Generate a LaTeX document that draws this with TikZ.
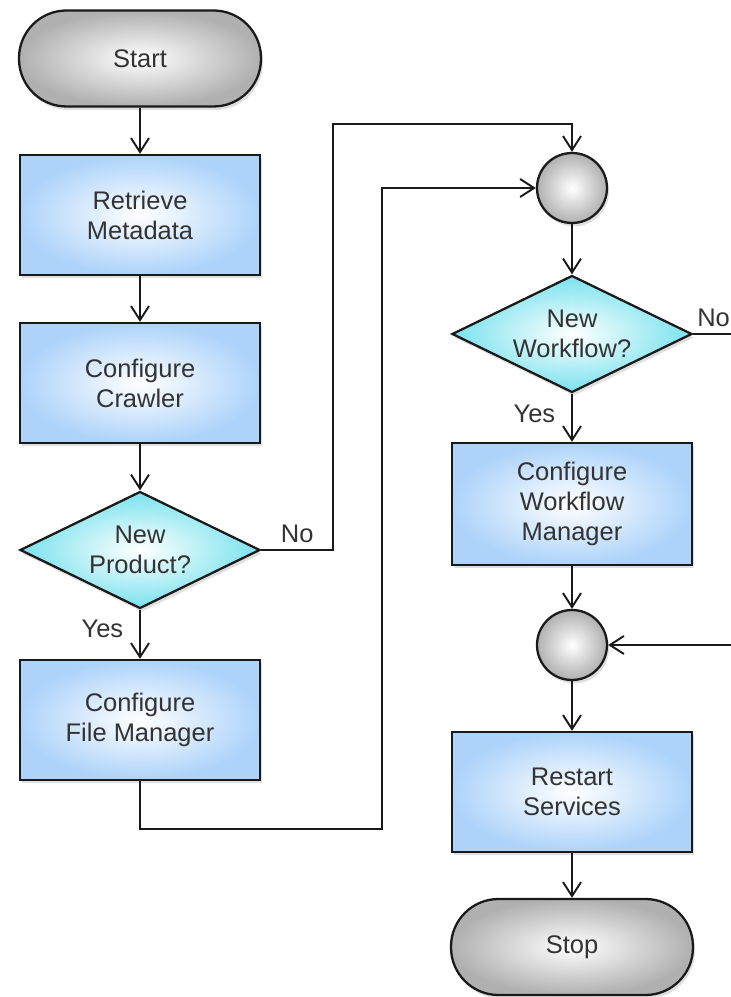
\documentclass[tikz,border=0pt]{standalone}
\usepackage{fontspec}
\setmainfont{Liberation Sans}
\usetikzlibrary{arrows.meta,shapes.geometric,shadows,calc}
\definecolor{BoxBlue}{HTML}{ADD3FA}
\definecolor{TermGray}{HTML}{B0B0B0}
\definecolor{DecCyan}{HTML}{79E2EE}
\definecolor{Ink}{HTML}{1A1A1A}
\definecolor{TextGray}{HTML}{333333}

\begin{document}
\begin{tikzpicture}[x=1cm,y=1cm,>={Straight Barb[length=2.8mm,width=3.6mm]},
    every node/.style={font=\fontsize{14.5}{17}\selectfont,text=TextGray},
    flow/.style={draw=Ink,line width=1.1pt},
    softshadow/.style={drop shadow={shadow xshift=0.04cm,shadow yshift=-0.07cm,opacity=0.25}},
    process/.style={rectangle,draw=Ink,line width=1.3pt,inner color=white,outer color=BoxBlue,minimum width=4.8cm,minimum height=2.4cm,align=center,softshadow},
    terminal/.style={rectangle,rounded corners=0.95cm,draw=Ink,line width=1.3pt,inner color=white,outer color=TermGray,minimum width=4.84cm,minimum height=1.92cm,softshadow},
    decision/.style={diamond,aspect=2,inner sep=0pt,draw=Ink,line width=1.3pt,inner color=white,outer color=DecCyan,minimum width=4.8cm,minimum height=2.34cm,align=center,softshadow},
    junction/.style={circle,draw=Ink,line width=1.3pt,inner color=white,outer color=TermGray,minimum size=1.4cm,inner sep=0pt,softshadow}]
  \useasboundingbox (0,0) rectangle (14.62,19.94);

  \node[terminal] (start) at (2.80,18.77) {Start};
  \node[process] (retrieve) at (2.80,15.64) {Retrieve\\Metadata};
  \node[process] (crawler) at (2.80,12.28) {Configure\\Crawler};
  \node[decision] (product) at (2.80,8.94) {New\\Product?};
  \node[process] (filemgr) at (2.80,5.54) {Configure\\File Manager};

  \node[junction] (join1) at (11.44,16.18) {};
  \node[decision] (workflow) at (11.44,13.26) {New\\Workflow?};
  \node[process,minimum height=2.44cm] (wfmgr) at (11.44,9.86) {Configure\\Workflow\\Manager};
  \node[junction] (join2) at (11.44,7.04) {};
  \node[process] (restart) at (11.44,4.10) {Restart\\Services};
  \node[terminal] (stop) at (11.44,1.00) {Stop};

  \coordinate (wfexit) at (14.62,13.26);
  \coordinate (rejoin) at (14.62,7.04);

  \draw[flow,->] (start) -- (retrieve);
  \draw[flow,->] (retrieve) -- (crawler);
  \draw[flow,->] (crawler) -- (product);
  \draw[flow,->] (product) -- node[pos=0.4,left=0.2cm] {Yes} (filemgr);
  \draw[flow,->] (product.east) -- node[above] {No} ++(1.44,0) |- ([yshift=0.56cm]join1.north) -- (join1.north);
  \draw[flow,->] (filemgr.south) -- ++(0,-0.96) -| ([xshift=-3.08cm]join1.west) -- (join1.west);

  \draw[flow,->] (join1) -- (workflow);
  \draw[flow] (workflow.east) -- node[pos=0.54,above] {No} (wfexit);
  \draw[flow,->] (workflow) -- node[pos=0.41,left=0.2cm] {Yes} (wfmgr);
  \draw[flow,->] (wfmgr) -- (join2);
  \draw[flow,->] (rejoin) -- (join2);
  \draw[flow,->] (join2) -- (restart);
  \draw[flow,->] (restart) -- (stop);
\end{tikzpicture}
\end{document}
